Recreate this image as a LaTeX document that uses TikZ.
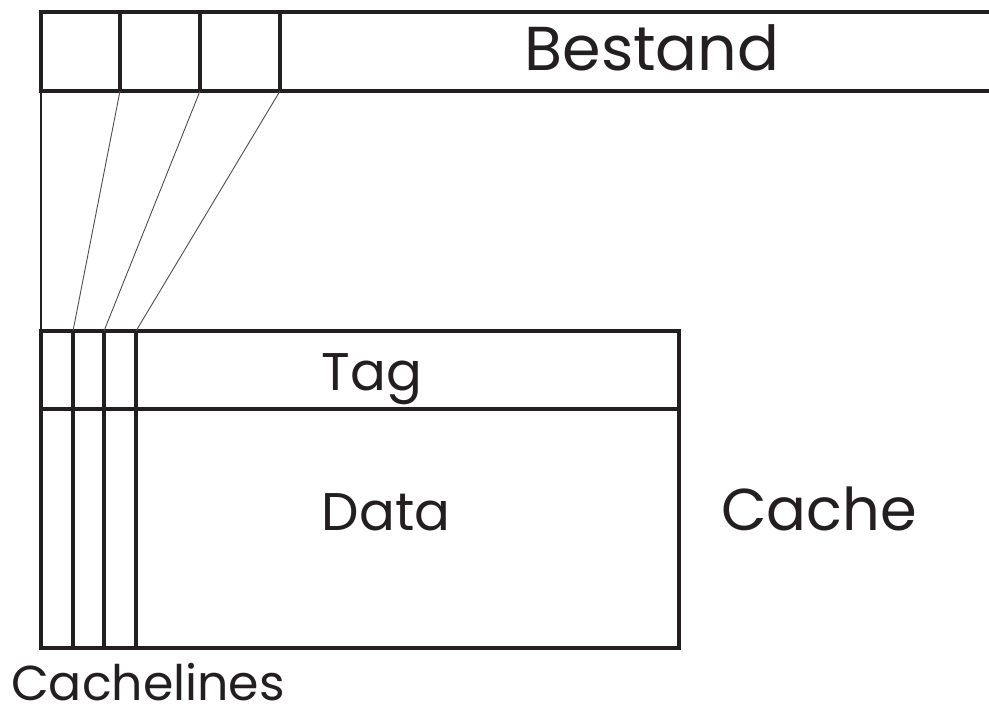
\documentclass[tikz,border=0pt]{standalone}
\usepackage{fontspec}
\setmainfont{Poppins}
\definecolor{ink}{HTML}{231F20}
\begin{document}
\begin{tikzpicture}[x=1pt,y=-1pt,
  frame/.style={draw=ink,line width=4pt,line join=miter},
  feed/.style={draw=ink,line width=1.6pt},
  link/.style={draw=ink!80,line width=0.9pt},
  label/.style={text=ink,anchor=base,inner sep=0pt}]
\useasboundingbox (0,0) rectangle (989,707);

% memory row (Bestand), open to the right
\coordinate (m0) at (41,91);
\coordinate (m1) at (120,91);
\coordinate (m2) at (200,91);
\coordinate (m3) at (280,91);
\draw[frame] (1000,12) -- (41,12) -- (m0) -- (1000,91);
\foreach \i in {1,2,3} \draw[frame] (m\i) -- (m\i |- 0,12);

% cache block with tag row and cache lines
\coordinate (c0) at (41,331);
\coordinate (c1) at (73,331);
\coordinate (c2) at (104,331);
\coordinate (c3) at (136,331);
\draw[frame] (c0) rectangle (679,648);
\draw[frame] (41,409) -- (679,409);
\foreach \i in {1,2,3} \draw[frame] (c\i) -- (c\i |- 0,648);

% mapping of memory blocks onto cache lines
\draw[feed] (m0) -- (c0);
\foreach \i in {1,2,3} \draw[link] (m\i) -- (c\i);

% labels
\node[label,font=\fontsize{62}{62}\selectfont] (bestand) at (652,70) {Bestand};
\node[label,font=\fontsize{53}{53}\selectfont] (tag) at (372,390) {Tag};
\node[label,font=\fontsize{53}{53}\selectfont] (data) at (386,530) {Data};
\node[label,font=\fontsize{59}{59}\selectfont] (cache) at (819,530) {Cache};
\node[label,font=\fontsize{49}{49}\selectfont] (lines) at (148,700) {Cachelines};
\end{tikzpicture}
\end{document}
